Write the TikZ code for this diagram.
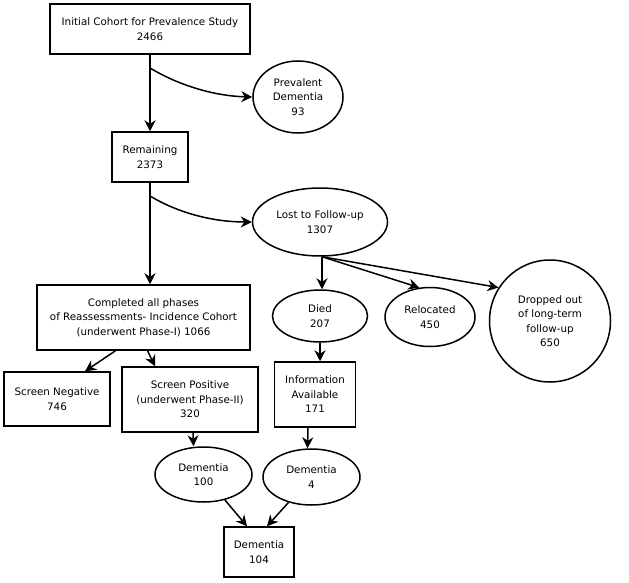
\documentclass[tikz,border=0pt]{standalone}
\usepackage{fontspec}
\setmainfont{DejaVu Sans}
\usetikzlibrary{shapes.geometric,arrows.meta}

\tikzset{
  box/.style={draw, line width=1.5pt, align=center, inner sep=0pt},
  oval/.style={draw, ellipse, line width=1.5pt, align=center, inner sep=0pt},
  arr/.style={-{Stealth[length=11pt,width=11pt]}, line width=1.5pt},
}

\begin{document}
\begin{tikzpicture}[x=1pt,y=-1pt,font=\fontsize{10.3}{14.5}\selectfont]
\useasboundingbox (0,0) rectangle (629,583);

% Prevalence part
\node[box, minimum width=200pt, minimum height=50pt] (init) at (150,29) {Initial Cohort for Prevalence Study\\2466};
\node[oval, minimum width=90pt, minimum height=72pt] (prev) at (298,97) {Prevalent\\Dementia\\93};
\node[box, minimum width=76pt, minimum height=50pt] (remain) at (150,157) {Remaining\\2373};

\draw[arr] (init) -- (remain);
\coordinate (c1) at (150,68);
\draw[arr] (c1) .. controls (180,86) and (215,96) .. (prev.west);

% Lost to follow-up
\node[oval, minimum width=135pt, minimum height=68pt] (lost) at (320,222) {Lost to Follow-up\\1307};
\coordinate (c2) at (150,196);
\draw[arr] (c2) .. controls (180,214) and (215,222) .. (lost.west);

\node[oval, minimum width=95pt, minimum height=52pt] (died) at (320,316) {Died\\207};
\node[oval, minimum width=90pt, minimum height=59pt] (reloc) at (430,317) {Relocated\\450};
\node[oval, minimum width=121pt, minimum height=122pt] (drop) at (550,321) {Dropped out\\of long-term\\follow-up\\650};
\node[box, minimum width=81pt, minimum height=65pt] (info) at (315,394.5) {Information\\Available\\171};

\coordinate (fork) at ([xshift=2pt]lost.south);
\draw[arr] (fork) -- (fork |- died.north);
\draw[arr] (fork) -- (reloc.110);
\draw[arr] (fork) -- (drop.147);
\draw[arr] (died.south) -- (died.south |- info.north);

% Incidence cohort
\node[box, minimum width=213pt, minimum height=65pt] (comp) at (143.5,317.5) {Completed all phases\\of Reassessments- Incidence Cohort\\(underwent Phase-I) 1066};
\draw[arr] (remain) -- (remain.south |- comp.north);

\node[box, minimum width=106pt, minimum height=54pt] (sneg) at (57,399) {Screen Negative\\746};
\node[box, minimum width=136pt, minimum height=65pt] (spos) at (190,399.5) {Screen Positive\\(underwent Phase-II)\\320};
\draw[arr] ([xshift=-28pt]comp.south) -- ([xshift=28pt]sneg.north);
\draw[arr] ([xshift=4pt]comp.south) -- ([xshift=-35pt]spos.north);

% Dementia cases
\node[oval, minimum width=97pt, minimum height=55pt] (dem1) at (203.5,474.5) {Dementia\\100};
\node[oval, minimum width=97pt, minimum height=56pt] (dem2) at (311.5,477) {Dementia\\4};
\node[box, minimum width=70pt, minimum height=50pt] (total) at (259,552) {Dementia\\104};

\draw[arr] ([xshift=3pt]spos.south) -- ([xshift=-10pt]dem1.north);
\draw[arr] ([xshift=-7pt]info.south) -- ([xshift=-4pt]dem2.north);
\draw[arr] (dem1) -- ([xshift=-12pt]total.north);
\draw[arr] (dem2) -- ([xshift=8pt]total.north);

\end{tikzpicture}
\end{document}
